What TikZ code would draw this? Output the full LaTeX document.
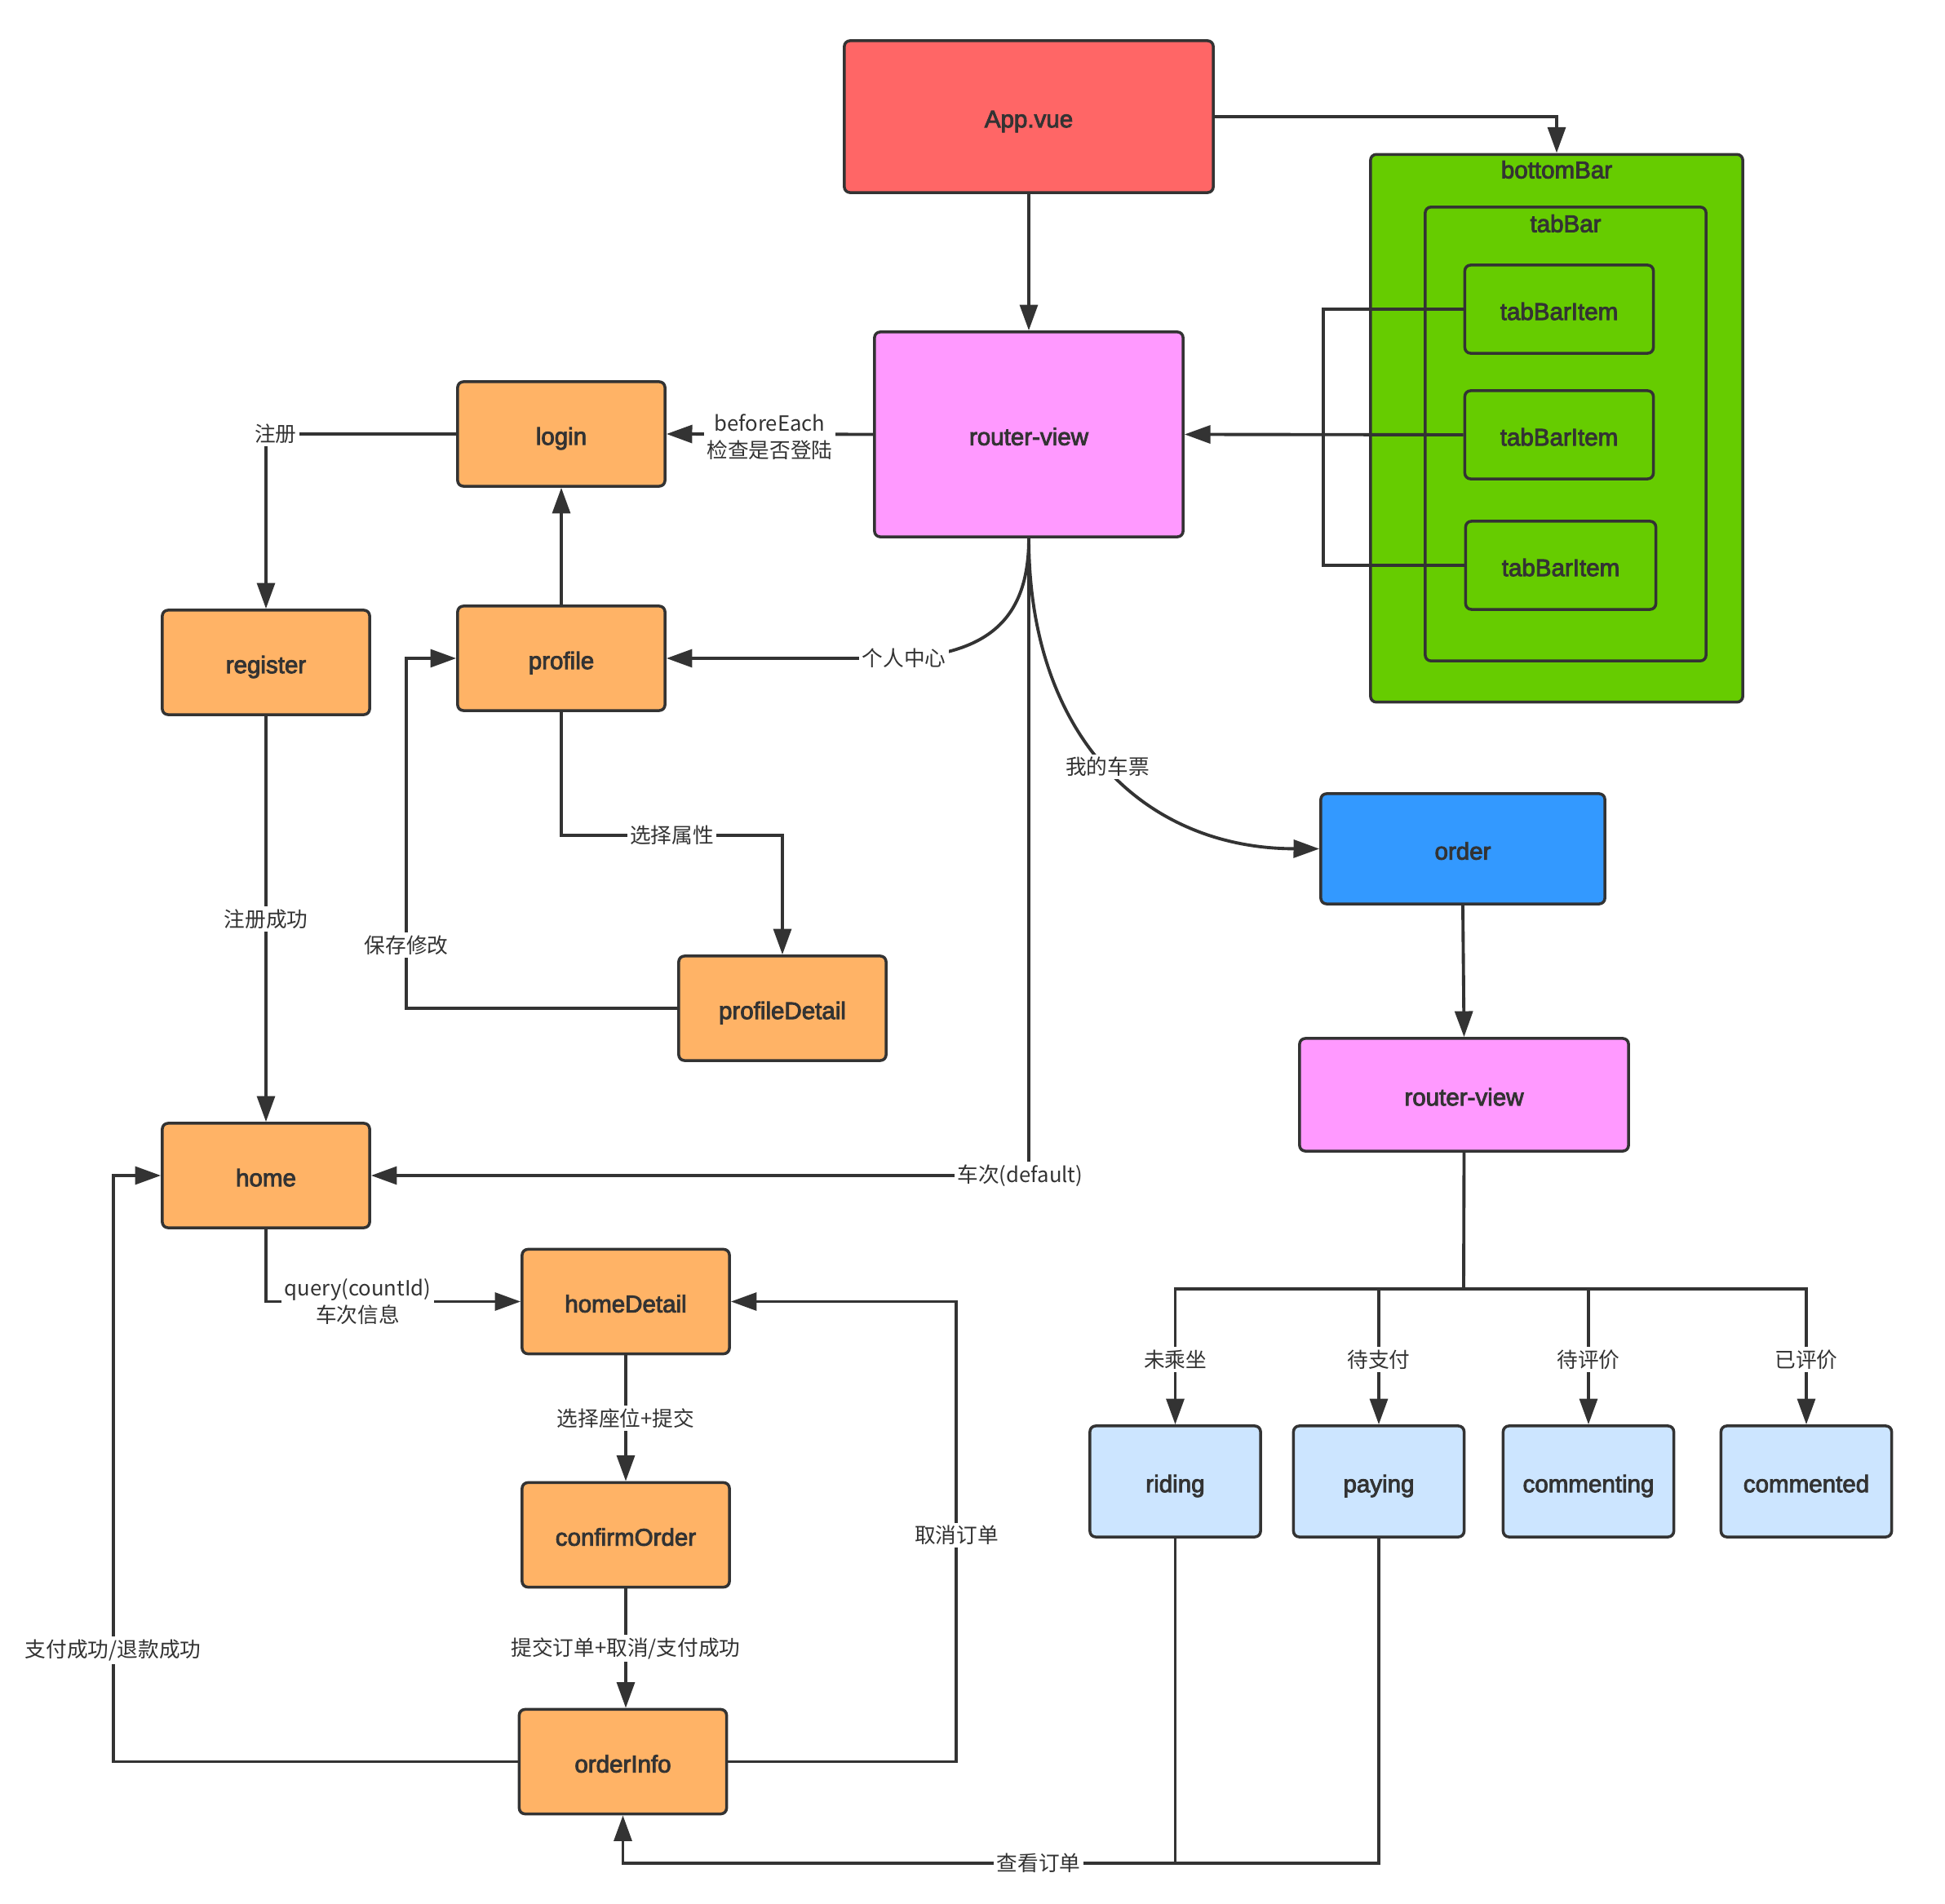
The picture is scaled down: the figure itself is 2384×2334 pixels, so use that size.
\documentclass[tikz,border=0pt]{standalone}
\usepackage{fontspec}
\setmainfont{Liberation Sans}
\newfontfamily\boxfont[FakeBold=3]{Liberation Sans}
\newfontfamily\cjk{Noto Sans CJK SC}
\usetikzlibrary{arrows.meta}
\definecolor{ink}{HTML}{333333}
\definecolor{appred}{HTML}{FF6666}
\definecolor{viewpink}{HTML}{FF99FF}
\definecolor{pageorange}{HTML}{FFB366}
\definecolor{bargreen}{HTML}{66CC00}
\definecolor{orderblue}{HTML}{3399FF}
\definecolor{tabblue}{HTML}{CCE5FF}

\begin{document}
\begin{tikzpicture}[x=0.01cm,y=-0.01cm,>={Triangle[length=9pt,width=6.2pt]},
  box/.style={draw=ink,line width=1pt,rounded corners=2pt,text=ink,inner sep=0pt,
    text height=0.75em,text depth=0pt,font=\boxfont\fontsize{8.4}{10}\selectfont},
  title/.style={text=ink,font=\boxfont\fontsize{8.4}{10}\selectfont},
  page/.style={box,fill=pageorange,minimum width=2.54cm,minimum height=1.28cm},
  item/.style={box,fill=bargreen,minimum width=2.31cm,minimum height=1.08cm},
  tab/.style={box,fill=tabblue,minimum width=2.09cm,minimum height=1.36cm},
  conn/.style={draw=ink,line width=1.1pt,->},
  wire/.style={draw=ink,line width=1.1pt},
  lbl/.style={fill=white,text=ink,inner sep=1pt,align=center,
    font=\cjk\fontsize{7.3}{9.5}\selectfont}]
\useasboundingbox (0,0) rectangle (2384,2334);

% top: app and bottom bar
\node[box,fill=appred,minimum width=4.52cm,minimum height=1.86cm] (app) at (1261,143) {App.vue};
\node[box,fill=bargreen,minimum width=4.56cm,minimum height=6.71cm] (bottombar) at (1908,525) {};
\node[title] at (1908,208) {bottomBar};
\node[box,fill=bargreen,minimum width=3.44cm,minimum height=5.56cm] (tabbar) at (1919,532) {};
\node[title] at (1919,274) {tabBar};
\node[item] (item1) at (1911,379) {tabBarItem};
\node[item] (item2) at (1911,533) {tabBarItem};
\node[item,minimum width=2.33cm] (item3) at (1913,693) {tabBarItem};
\node[box,fill=viewpink,minimum width=3.78cm,minimum height=2.51cm] (rv) at (1261,532.5) {router-view};

% pages
\node[page] (login) at (688,532) {login};
\node[page] (register) at (326,812) {register};
\node[page] (profile) at (688,807) {profile};
\node[page] (pdetail) at (959,1236) {profileDetail};
\node[page] (home) at (326,1441) {home};
\node[page] (hdetail) at (767,1595.5) {homeDetail};
\node[page] (confirm) at (767,1881.5) {confirmOrder};
\node[page] (oinfo) at (763.5,2159.5) {orderInfo};

% order branch
\node[box,fill=orderblue,minimum width=3.48cm,minimum height=1.35cm] (order) at (1793,1040.5) {order};
\node[box,fill=viewpink,minimum width=4.03cm,minimum height=1.38cm] (rv2) at (1794.5,1342) {router-view};
\node[tab] (riding) at (1440.5,1816) {riding};
\node[tab] (paying) at (1690,1816) {paying};
\node[tab] (commenting) at (1947,1816) {commenting};
\node[tab] (commented) at (2214,1816) {commented};

% connectors
\draw[conn] (app.east) -| (bottombar.north);
\draw[conn] (app.south) -- (rv.north);
\draw[wire] (item1.west) -- ++(-172,0) |- (item3.west);
\draw[conn] (item2.west) -- (rv.east);
\draw[conn] (rv.west) -- node[lbl,yshift=-1pt]{beforeEach\\检查是否登陆} (login.east);
\draw[conn] (login.west) -| node[lbl,pos=0.5,xshift=3.4pt]{注册} (register.north);
\draw[conn] (profile.north) -- (login.south);
\draw[conn] (rv.south) .. controls (1261,760) and (1210,800) .. (1108,807) node[lbl]{个人中心} -- (profile.east);
\draw[conn] (profile.south) -- ++(0,151) -| node[lbl,pos=0.25]{选择属性} (pdetail.north);
\draw[conn] (pdetail.west) -- ++(-332,0) |- node[lbl,pos=0.09]{保存修改} (profile.west);
\draw[conn] (register.south) -- node[lbl]{注册成功} (home.north);
\draw[conn] (rv.south) |- node[lbl,pos=0.5,xshift=-3pt]{车次(default)} (home.east);
\draw[conn] (rv.south) .. controls (1261,900) and (1400,1040) .. node[lbl,pos=0.5]{我的车票} (order.west);
\draw[conn] (order.south) -- (rv2.north);

\coordinate (fork) at (1794,1580);
\draw[wire] (rv2.south) -- (fork);
\foreach \n/\t in {riding/未乘坐,paying/待支付,commenting/待评价,commented/已评价}
  \draw[conn] (fork) -| node[lbl,pos=0.76]{\t} (\n.north);

\draw[conn] (home.south) |- node[lbl,pos=0.68]{query(countId)\\车次信息} (hdetail.west);
\draw[conn] (hdetail.south) -- node[lbl]{选择座位+提交} (confirm.north);
\draw[conn] (confirm.south) -- node[lbl]{提交订单+取消/支付成功} (confirm.south |- oinfo.north);
\draw[conn] (oinfo.west) -- ++(-496,0) |- node[lbl,pos=0.095]{支付成功/退款成功} (home.west);
\draw[conn] (oinfo.east) -- ++(280,0) |- node[lbl,pos=0.246]{取消订单} (hdetail.east);

\coordinate (bus) at (0,2284);
\draw[wire] (riding.south) -- (riding.south |- bus);
\draw[conn] (paying.south) -- (paying.south |- bus) -| node[lbl,pos=0.225]{查看订单} (oinfo.south);
\end{tikzpicture}
\end{document}
